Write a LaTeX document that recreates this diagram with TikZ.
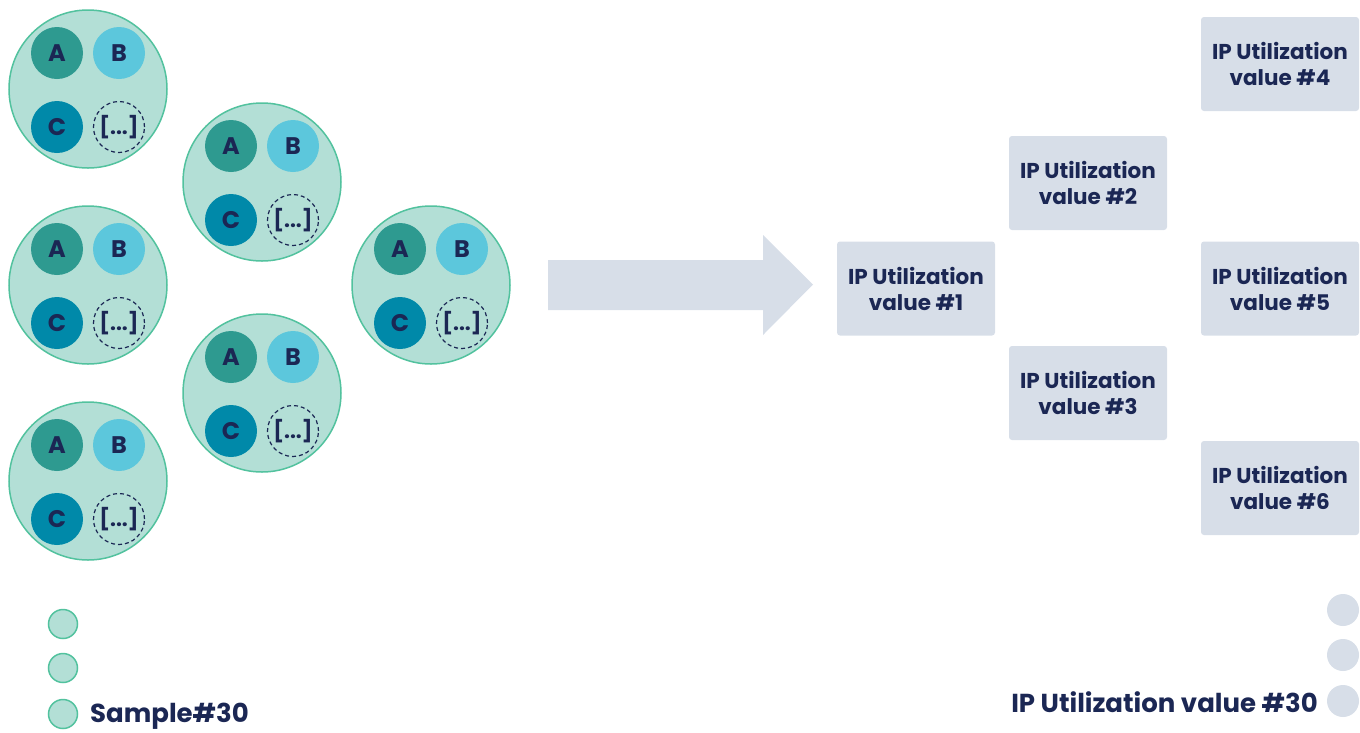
\documentclass[tikz,border=0pt]{standalone}
\usepackage{fontspec}
\setmainfont{Poppins}
\definecolor{navy}{HTML}{1B2754}
\definecolor{sgreen}{HTML}{52C29E}
\definecolor{slight}{HTML}{B3DFD6}
\definecolor{ca}{HTML}{2E9A90}
\definecolor{cb}{HTML}{5CC7DC}
\definecolor{cc}{HTML}{0089A9}
\definecolor{boxc}{HTML}{D7DEE8}
\tikzset{
  bigc/.style={circle, draw=sgreen, line width=1.5pt, fill=slight, minimum size=158pt, inner sep=0pt},
  smallc/.style={circle, minimum size=52pt, inner sep=0pt, text=navy, font=\fontsize{24}{24}\selectfont\bfseries},
  dashc/.style={circle, draw=navy, dashed, dash pattern=on 4pt off 3pt, line width=1.2pt, minimum size=51pt, inner sep=0pt, text=navy, font=\fontsize{21}{21}\selectfont\bfseries},
  ipbox/.style={rectangle, rounded corners=3pt, fill=boxc, minimum width=158pt, minimum height=94pt, align=center, text=navy, font=\fontsize{21.5}{26}\selectfont\bfseries},
  dotg/.style={circle, draw=sgreen, line width=1.5pt, fill=slight, minimum size=29pt, inner sep=0pt},
  dotb/.style={circle, fill=boxc, minimum size=32pt, inner sep=0pt},
  biglabel/.style={text=navy, font=\fontsize{26}{26}\selectfont\bfseries, inner sep=0pt},
  sample/.pic={
    \node[bigc] (-c) at (0,0) {};
    \node[smallc, fill=ca] (-a) at (-31,-36) {A};
    \node[smallc, fill=cb] (-b) at (31,-36) {B};
    \node[smallc, fill=cc] (-cc) at (-31,38) {C};
    \node[dashc] (-d) at (31,38) {[...]};
  }
}
\begin{document}
\begin{tikzpicture}[x=1pt,y=-1pt]
\useasboundingbox (0,0) rectangle (1360,732);
\pic (s1) at (88,89) {sample};
\pic (s2) at (262,182) {sample};
\pic (s3) at (88,285) {sample};
\pic (s4) at (431,285) {sample};
\pic (s5) at (262,393) {sample};
\pic (s6) at (88,481) {sample};

\fill[boxc] (548,260) -- (763,260) -- (763,235) -- (813,284.5) -- (763,335) -- (763,310) -- (548,310) -- cycle;

\node[ipbox] (v1) at (916,288.5) {IP Utilization\\value \#1};
\node[ipbox] (v2) at (1088,183) {IP Utilization\\value \#2};
\node[ipbox] (v3) at (1088,393) {IP Utilization\\value \#3};
\node[ipbox] (v4) at (1280,64) {IP Utilization\\value \#4};
\node[ipbox] (v5) at (1280,288.5) {IP Utilization\\value \#5};
\node[ipbox] (v6) at (1280,488) {IP Utilization\\value \#6};

\node[dotg] (d1) at (63,624) {};
\node[dotg] (d2) at (63,668) {};
\node[dotg] (d3) at (63,714) {};
\node[biglabel, anchor=west] (l1) at (90,716) {Sample\#30};

\node[dotb] (e1) at (1343,610) {};
\node[dotb] (e2) at (1343,655) {};
\node[dotb] (e3) at (1343,701) {};
\node[biglabel, anchor=east] (l2) at (1318,702) {IP Utilization value \#30};
\end{tikzpicture}
\end{document}
